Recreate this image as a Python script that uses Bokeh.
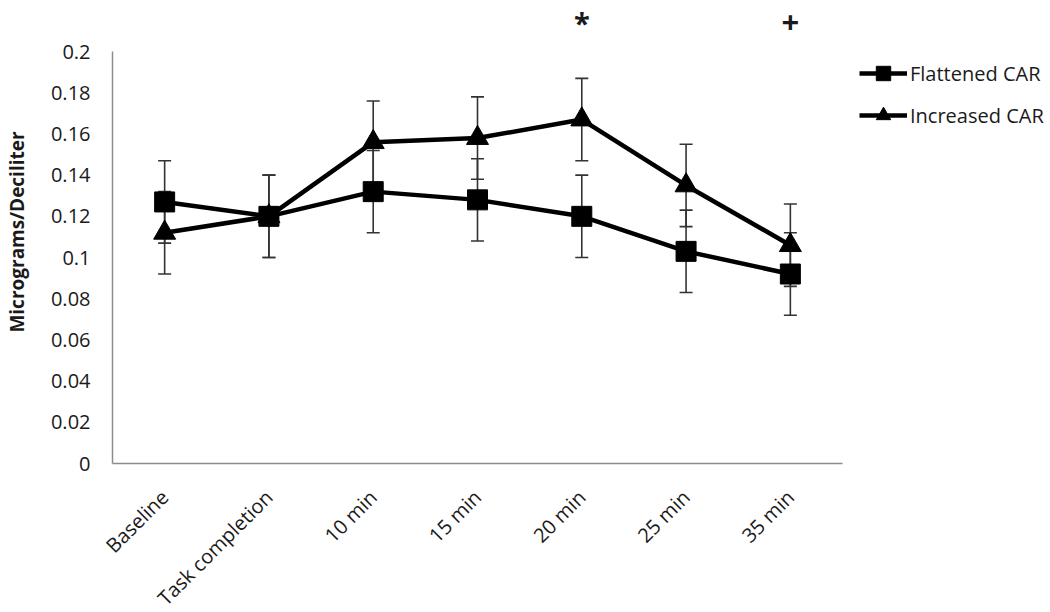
import math
from bokeh.plotting import figure
from bokeh.models import (ColumnDataSource, Whisker, FixedTicker, Legend, LegendItem,
                          Label, Range1d, FactorRange, TeeHead)
from bokeh.embed import file_html
from bokeh.resources import INLINE

# ---- data ----
categories = ["Baseline", "Task completion", "10 min", "15 min", "20 min", "25 min", "35 min"]
flattened = [0.127, 0.120, 0.132, 0.128, 0.120, 0.103, 0.092]
flattened_err = [0.020, 0.020, 0.020, 0.020, 0.020, 0.020, 0.020]
increased = [0.112, 0.120, 0.156, 0.158, 0.167, 0.135, 0.106]
increased_err = [0.020, 0.020, 0.020, 0.020, 0.020, 0.020, 0.020]
series_names = ["Flattened CAR", "Increased CAR"]
y_ticks = [0, 0.02, 0.04, 0.06, 0.08, 0.1, 0.12, 0.14, 0.16, 0.18, 0.2]
y_tick_labels = ["0", "0.02", "0.04", "0.06", "0.08", "0.1", "0.12", "0.14", "0.16", "0.18", "0.2"]
sig_categories = ["20 min", "35 min"]
sig_marks = ["*", "+"]

SIG_Y = 0.2142
SIG_SIZES = ["29px", "31px"]
FONT = "Open Sans"
TEXT = "#1a1a1a"
AXIS = "#8c8c8c"

p = figure(x_range=FactorRange(*categories), y_range=Range1d(0, 0.2248),
           frame_width=730, frame_height=463, output_backend="svg", toolbar_location=None,
           min_border_left=108, min_border_right=10, min_border_top=0, min_border_bottom=130)
p.outline_line_color = None
p.xgrid.visible = False
p.ygrid.visible = False
p.background_fill_color = "white"
p.border_fill_color = "white"

# axes
p.yaxis.ticker = FixedTicker(ticks=y_ticks)
p.yaxis.major_label_overrides = {t: l for t, l in zip(y_ticks, y_tick_labels)}
p.yaxis.bounds = (y_ticks[0], y_ticks[-1])
for ax in (p.xaxis[0], p.yaxis[0]):
    ax.axis_line_color = AXIS
    ax.axis_line_width = 1.5
    ax.major_tick_line_color = None
    ax.minor_tick_line_color = None
    ax.major_tick_out = 0
    ax.major_tick_in = 0
    ax.major_label_text_font = FONT
    ax.major_label_text_font_size = "20px"
    ax.major_label_text_color = TEXT
p.yaxis.major_label_standoff = 22
p.yaxis.axis_label = "Micrograms/Deciliter"
p.yaxis.axis_label_text_font = FONT
p.yaxis.axis_label_text_font_size = "19px"
p.yaxis.axis_label_text_font_style = "bold"
p.yaxis.axis_label_text_color = TEXT
p.yaxis.axis_label_standoff = 18
p.xaxis.major_label_orientation = math.pi / 4
p.xaxis.major_label_standoff = 30

# error bars
for vals, errs in ((flattened, flattened_err), (increased, increased_err)):
    src = ColumnDataSource(dict(x=categories,
                                upper=[v + e for v, e in zip(vals, errs)],
                                lower=[v - e for v, e in zip(vals, errs)]))
    w = Whisker(base="x", upper="upper", lower="lower", source=src,
                line_color="#333333", line_width=1.6,
                upper_head=TeeHead(size=13, line_color="#333333", line_width=1.6),
                lower_head=TeeHead(size=13, line_color="#333333", line_width=1.6))
    p.add_layout(w)

# series
l1 = p.line(x=categories, y=flattened, line_color="black", line_width=4.5)
s1 = p.scatter(x=categories, y=flattened, marker="square", size=20,
               fill_color="black", line_color="black")
l2 = p.line(x=categories, y=increased, line_color="black", line_width=4.5)
s2 = p.scatter(x=categories, y=increased, marker="triangle", size=22,
               fill_color="black", line_color="black")

legend = Legend(items=[LegendItem(label=series_names[0], renderers=[l1, s1]),
                       LegendItem(label=series_names[1], renderers=[l2, s2])],
                location=(17, 330), border_line_color=None, background_fill_alpha=0,
                label_text_font=FONT, label_text_font_size="20px", label_text_color=TEXT,
                glyph_width=48, glyph_height=36, label_standoff=3, spacing=6,
                padding=0, margin=0)
p.add_layout(legend, "right")

# significance marks
for c, m, fs in zip(sig_categories, sig_marks, SIG_SIZES):
    p.add_layout(Label(x=categories.index(c) + 0.5, y=SIG_Y, text=m,
                       text_font=FONT, text_font_size=fs, text_font_style="bold",
                       text_color=TEXT, text_align="center", text_baseline="middle"))

open("out.html", "w").write(file_html(p, INLINE))
